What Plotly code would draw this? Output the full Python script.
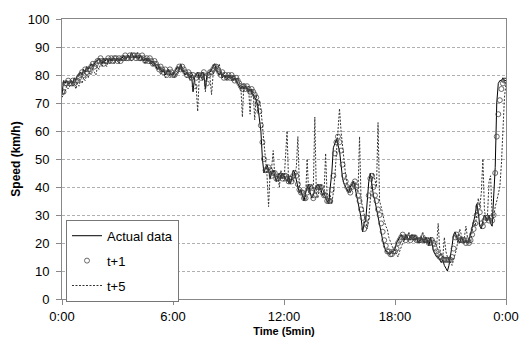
import plotly.graph_objects as go

# ---- data (5-minute intervals, 0:00 .. 24:00) ----
actual = [
    73, 78, 77, 78, 77, 77, 78, 77, 79, 78, 80, 80,
    81, 80, 82, 81, 83, 82, 83, 84, 83, 84, 85, 85,
    86, 85, 84, 86, 85, 86, 85, 86, 85, 86, 86, 85,
    86, 85, 86, 86, 87, 86, 86, 87, 86, 88, 87, 86,
    87, 86, 86, 87, 86, 85, 86, 85, 86, 85, 84, 85,
    84, 83, 82, 83, 82, 81, 82, 80, 81, 82, 81, 80,
    80, 81, 82, 83, 82, 84, 82, 81, 80, 81, 80, 79,
    80, 74, 79, 80, 81, 79, 80, 81, 80, 75, 80, 81,
    81, 82, 83, 84, 82, 81, 80, 81, 79, 80, 79, 80,
    79, 80, 79, 78, 79, 78, 77, 76, 75, 76, 75, 76,
    75, 74, 75, 74, 73, 72, 71, 69, 65, 60, 50, 45,
    47, 48, 46, 43, 45, 46, 44, 42, 44, 45, 43, 45,
    44, 43, 42, 44, 41, 43, 46, 45, 42, 40, 38, 39,
    37, 35, 38, 40, 41, 38, 36, 37, 39, 40, 41, 40,
    39, 37, 38, 36, 35, 34, 40, 45, 54, 56, 57, 55,
    53, 48, 43, 41, 40, 39, 38, 40, 41, 42, 40, 37,
    34, 32, 29, 24, 27, 28, 36, 42, 45, 40, 37, 35,
    32, 30, 27, 24, 21, 19, 17, 17, 16, 16, 17, 17,
    18, 20, 21, 22, 23, 22, 21, 23, 22, 21, 22, 23,
    22, 21, 22, 20, 21, 22, 21, 20, 22, 21, 19, 22,
    20, 17, 16, 15, 15, 14, 13, 14, 12, 11, 10, 12,
    15, 19, 23, 24, 22, 21, 20, 22, 21, 20, 21, 20,
    21, 23, 25, 27, 30, 34, 31, 26, 25, 28, 30, 29,
    28, 30, 27, 26, 36, 47, 70, 77, 78, 78, 79, 78, 78,
]

pred_t1 = [
    74, 74, 77, 77, 78, 77, 77, 78, 77, 78, 78, 79,
    80, 81, 80, 82, 81, 82, 82, 83, 84, 83, 84, 85,
    85, 86, 85, 84, 85, 85, 86, 85, 86, 85, 86, 86,
    85, 86, 85, 86, 86, 87, 86, 86, 87, 86, 87, 87,
    86, 87, 86, 86, 87, 86, 85, 86, 85, 86, 85, 84,
    85, 84, 83, 82, 83, 82, 81, 82, 80, 81, 82, 81,
    80, 80, 81, 82, 83, 82, 83, 82, 81, 80, 81, 80,
    79, 80, 76, 79, 80, 80, 79, 80, 81, 79, 77, 80,
    81, 81, 82, 83, 83, 82, 81, 80, 81, 79, 80, 79,
    80, 79, 80, 79, 78, 79, 78, 77, 76, 75, 76, 75,
    76, 75, 74, 75, 74, 73, 72, 70, 67, 62, 56, 50,
    46, 46, 47, 46, 44, 45, 45, 43, 43, 44, 44, 43,
    44, 44, 43, 42, 43, 42, 44, 45, 44, 41, 39, 38,
    38, 36, 36, 38, 40, 40, 38, 36, 37, 39, 40, 40,
    40, 38, 37, 37, 35, 35, 35, 39, 44, 52, 56, 58,
    56, 53, 48, 44, 42, 40, 39, 38, 40, 41, 42, 40,
    37, 35, 32, 29, 25, 27, 29, 37, 43, 44, 40, 37,
    35, 32, 30, 27, 24, 21, 19, 17, 17, 16, 16, 17,
    17, 18, 20, 21, 22, 23, 22, 21, 22, 22, 21, 22,
    22, 22, 21, 21, 21, 21, 22, 21, 21, 21, 20, 20,
    21, 20, 18, 17, 16, 15, 15, 14, 14, 14, 14, 14,
    14, 15, 18, 22, 23, 22, 21, 21, 21, 21, 20, 21,
    20, 21, 23, 25, 27, 30, 33, 31, 27, 26, 28, 29,
    29, 28, 29, 28, 30, 45, 58, 66, 71, 75, 77, 78, 78,
]

pred_t5 = [
    72, 73, 74, 76, 75, 76, 77, 76, 77, 75, 77, 76,
    78, 77, 79, 78, 80, 79, 81, 80, 82, 81, 80, 83,
    82, 84, 83, 85, 84, 83, 85, 84, 86, 85, 84, 86,
    85, 84, 86, 85, 86, 85, 86, 87, 86, 85, 86, 87,
    86, 88, 86, 85, 86, 85, 84, 86, 85, 84, 85, 83,
    84, 83, 84, 82, 80, 82, 81, 79, 80, 82, 79, 80,
    81, 79, 80, 81, 82, 83, 81, 82, 80, 79, 80, 78,
    81, 79, 78, 76, 67, 79, 80, 78, 81, 74, 80, 80,
    79, 73, 80, 82, 83, 82, 84, 81, 80, 81, 79, 78,
    80, 79, 78, 80, 79, 78, 79, 77, 76, 65, 77, 76,
    75, 76, 66, 75, 74, 64, 73, 67, 71, 68, 62, 55,
    48, 44, 33, 45, 47, 53, 44, 42, 44, 40, 46, 43,
    42, 50, 60, 41, 44, 43, 42, 45, 47, 58, 40, 38,
    37, 35, 36, 50, 38, 40, 41, 39, 65, 37, 36, 40,
    41, 39, 38, 52, 36, 35, 37, 34, 38, 44, 52, 58,
    68, 60, 54, 50, 44, 41, 39, 38, 40, 42, 41, 39,
    38, 58, 35, 33, 30, 27, 25, 29, 35, 42, 45, 42,
    40, 63, 35, 33, 30, 28, 26, 25, 22, 20, 19, 18,
    17, 16, 15, 17, 19, 20, 21, 23, 22, 24, 21, 22,
    21, 23, 22, 21, 20, 22, 24, 21, 22, 20, 22, 21,
    22, 21, 20, 19, 27, 18, 16, 15, 22, 17, 15, 14,
    13, 12, 14, 16, 18, 22, 25, 23, 21, 22, 26, 22,
    21, 20, 24, 28, 26, 30, 36, 33, 38, 50, 32, 28,
    30, 42, 44, 30, 29, 33, 35, 38, 40, 48, 62, 72, 77,
]

tick_vals = [0, 360, 720, 1080, 1440]
tick_text = ["0:00", "6:00", "12:00", "18:00", "0:00"]

minutes = [5 * i for i in range(len(actual))]

FONT = "Liberation Sans, Arial, sans-serif"

fig = go.Figure()
fig.add_trace(go.Scatter(
    x=minutes, y=actual, mode="lines", name="Actual data",
    line=dict(color="#000000", width=1), legendgroup="a",
))
fig.add_trace(go.Scatter(
    x=minutes, y=pred_t1, mode="markers", name="t+1",
    marker=dict(symbol="circle-open", size=5, color="#444444",
                line=dict(width=0.8, color="#444444")),
    legendgroup="b",
))
fig.add_trace(go.Scatter(
    x=minutes, y=pred_t5, mode="lines", name="t+5",
    line=dict(color="#333333", width=1, dash="2px,1.5px"), legendgroup="c",
))

fig.update_layout(
    width=531, height=347,
    margin=dict(l=62, r=12, t=13, b=40),
    paper_bgcolor="white", plot_bgcolor="white",
    font=dict(family=FONT, size=13, color="#000000"),
    showlegend=True,
    legend=dict(
        x=0.009, y=0.283, xanchor="left", yanchor="top",
        bgcolor="white", bordercolor="#777777", borderwidth=1,
        font=dict(family=FONT, size=13, color="#000000"),
        traceorder="grouped", tracegroupgap=5,
    ),
    xaxis=dict(
        range=[0, 1440], tickvals=tick_vals, ticktext=tick_text,
        showgrid=False, zeroline=False,
        showline=True, linecolor="#888888", linewidth=1, mirror=True,
        ticks="outside", ticklen=5, tickcolor="#888888",
        tickfont=dict(family=FONT, size=13),
        title=dict(text="<b>Time (5min)</b>", font=dict(family=FONT, size=11), standoff=4),
    ),
    yaxis=dict(
        range=[0, 100], dtick=10, tick0=0,
        showgrid=True, gridcolor="#b0b0b0", griddash="3px,2px", gridwidth=1,
        zeroline=False,
        showline=True, linecolor="#888888", linewidth=1, mirror=True,
        ticks="outside", ticklen=5, tickcolor="#888888",
        ticklabelstandoff=4,
        tickfont=dict(family=FONT, size=13),
        title=dict(text="<b>Speed (km/h)</b>", font=dict(family=FONT, size=12), standoff=4),
    ),
)

fig.write_html("out.html")
